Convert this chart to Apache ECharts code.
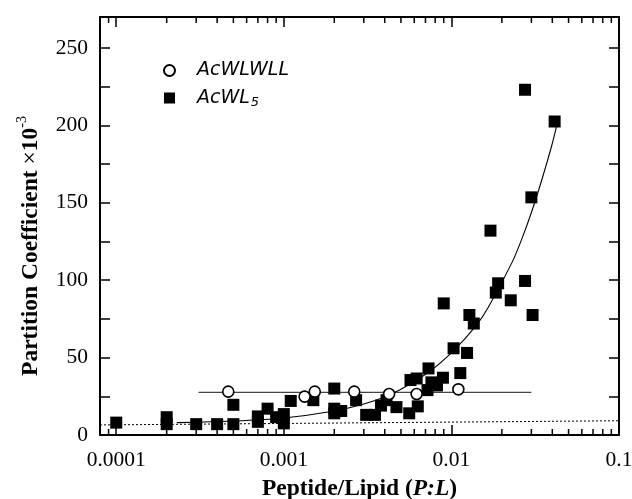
<!DOCTYPE html>
<html><head><meta charset="utf-8">
<script src="https://cdn.jsdelivr.net/npm/echarts@6/dist/echarts.min.js"></script>
<style>html,body{margin:0;padding:0;background:#fff}#c{width:632px;height:499px}</style>
</head><body><div id="c"></div>
<script>
// AcWLWLL (open circles)
const acwlwllX = [4.66e-4, 1.33e-3, 1.53e-3, 2.63e-3, 4.25e-3, 6.2e-3, 1.1e-2];
const acwlwllY = [28, 24.8, 28, 28, 26.5, 26.5, 29.5];
// AcWL5 (filled squares)
const acwl5X = [1.0e-4, 2.0e-4, 2.0e-4, 3.0e-4, 4.0e-4, 5.0e-4, 5.0e-4, 7.0e-4, 7.0e-4, 8.0e-4,
  9.0e-4, 1.0e-3, 1.0e-3, 1.1e-3, 1.5e-3, 2.0e-3, 2.0e-3, 2.0e-3, 2.2e-3, 2.7e-3,
  3.1e-3, 3.5e-3, 3.8e-3, 4.1e-3, 4.7e-3, 5.6e-3, 5.7e-3, 6.2e-3, 6.3e-3, 7.2e-3,
  7.3e-3, 7.6e-3, 8.2e-3, 8.9e-3, 9.0e-3, 1.03e-2, 1.13e-2, 1.24e-2, 1.28e-2, 1.36e-2,
  1.71e-2, 1.84e-2, 1.9e-2, 2.26e-2, 2.75e-2, 2.75e-2, 3.0e-2, 3.05e-2, 4.13e-2];
const acwl5Y = [8, 11.5, 7, 7, 7, 7, 19.5, 8.5, 12, 17,
  11.5, 13.5, 7.5, 22, 22.5, 30, 17, 14, 15.5, 22.5,
  13, 13, 19, 22.5, 18, 14, 35.5, 36.5, 18.5, 29,
  43, 34, 32, 37, 85, 56, 40, 53, 77.5, 72,
  132, 92, 98, 87, 223, 99.5, 153.5, 77.5, 202.5];
// fitted curve for AcWL5
const fitAcwl5X = [2.3e-4, 5e-4, 1e-3, 2e-3, 3e-3, 4e-3, 5e-3, 7.4e-3, 1.02e-2, 1.4e-2, 1.66e-2, 2.3e-2, 2.65e-2, 3.05e-2, 3.5e-2, 3.97e-2, 4.23e-2];
const fitAcwl5Y = [8, 9, 11, 15.5, 20, 24.5, 29.5, 41, 54, 70.5, 82.5, 111.5, 127.5, 146, 166.5, 187, 199];
// flat fit for AcWLWLL
const fitAcwlwllX = [3.1e-4, 3.0e-2];
const fitAcwlwllY = [27.5, 27.5];
// dotted baseline
const baseX = [8e-5, 0.1];
const baseY = [6.5, 9.2];
// axis ticks
const xTickValues = [0.0001, 0.001, 0.01, 0.1];
const xTickLabels = ['0.0001', '0.001', '0.01', '0.1'];
const xMinorTicks = [9e-5, 2e-4, 3e-4, 4e-4, 5e-4, 6e-4, 7e-4, 8e-4, 9e-4,
  2e-3, 3e-3, 4e-3, 5e-3, 6e-3, 7e-3, 8e-3, 9e-3,
  2e-2, 3e-2, 4e-2, 5e-2, 6e-2, 7e-2, 8e-2, 9e-2];
const yTickLabels = ['0', '50', '100', '150', '200', '250'];

const X_MIN = 8e-5, X_MAX = 0.1, Y_MIN = 0, Y_MAX = 270;
const zip = (a, b) => a.map((v, i) => [v, b[i]]);
const serif = 'Liberation Serif';

function xLabel(v) {
  for (let i = 0; i < xTickValues.length; i++) {
    if (Math.abs(v - xTickValues[i]) / xTickValues[i] < 1e-6) return xTickLabels[i];
  }
  return '';
}
function yLabel(v) {
  const s = String(Math.round(v));
  return yTickLabels.indexOf(s) >= 0 && Math.abs(v - Math.round(v)) < 1e-9 ? s : '';
}

const axisLine = { show: true, onZero: false, lineStyle: { color: '#000', width: 2 } };
const tick = { show: true, inside: true, length: 10, lineStyle: { color: '#000', width: 1.5 } };
const chart = echarts.init(document.getElementById('c'));
chart.setOption({
  animation: false,
  backgroundColor: '#fff',
  grid: { left: 100, right: 13, top: 17, bottom: 64, containLabel: false, outerBoundsMode: 'none' },
  legend: {
    orient: 'vertical', left: 158, top: 56, itemWidth: 11, itemHeight: 11, itemGap: 7,
    data: ['AcWLWLL', 'AcWL5'],
    formatter: n => n === 'AcWL5' ? '{t|AcWL}{s|5}' : '{t|AcWLWLL}',
    textStyle: {
      padding: [0, 0, 0, 17],
      rich: {
        t: { fontFamily: 'DejaVu Sans', fontStyle: 'italic', fontSize: 19, color: '#000', lineHeight: 22 },
        s: { fontFamily: 'DejaVu Sans', fontStyle: 'italic', fontSize: 13, color: '#000', lineHeight: 13, padding: [9, 0, 0, 1] }
      }
    }
  },
  xAxis: [{
    type: 'log', position: 'bottom', min: X_MIN, max: X_MAX,
    axisLine: axisLine, axisTick: tick,
    axisLabel: { formatter: xLabel, fontFamily: serif, fontSize: 21.5, color: '#000', margin: 14, showMinLabel: true, showMaxLabel: true },
    splitLine: { show: false },
    name: '{b|Peptide/Lipid (}{i|P:L}{b|)}',
    nameLocation: 'middle', nameGap: 42,
    nameTextStyle: { rich: {
      b: { fontFamily: serif, fontWeight: 'bold', fontSize: 23.5, color: '#000' },
      i: { fontFamily: serif, fontWeight: 'bold', fontStyle: 'italic', fontSize: 23.5, color: '#000' }
    } }
  }, {
    type: 'log', position: 'top', min: X_MIN, max: X_MAX,
    axisLine: axisLine, axisTick: tick,
    axisLabel: { show: false },
    splitLine: { show: false }
  }],
  yAxis: [{
    type: 'value', position: 'left', min: Y_MIN, max: Y_MAX, interval: 25,
    axisLine: axisLine, axisTick: tick,
    axisLabel: { formatter: yLabel, fontFamily: serif, fontSize: 21.5, color: '#000', margin: 12 },
    splitLine: { show: false },
    name: '{b|Partition Coefficient }{x|×}{b|10}{s|-3}',
    nameLocation: 'middle', nameGap: 57,
    nameTextStyle: {
      padding: [0, 40, 0, 0],
      rich: {
        b: { fontFamily: serif, fontWeight: 'bold', fontSize: 23.5, color: '#000', lineHeight: 28, verticalAlign: 'bottom' },
        x: { fontFamily: serif, fontSize: 23.5, color: '#000', lineHeight: 28, verticalAlign: 'bottom' },
        s: { fontFamily: serif, fontSize: 14, color: '#000', lineHeight: 15, verticalAlign: 'top' }
      }
    }
  }, {
    type: 'value', position: 'right', min: Y_MIN, max: Y_MAX, interval: 25,
    axisLine: axisLine, axisTick: tick,
    axisLabel: { show: false },
    splitLine: { show: false }
  }],
  series: [
    {
      type: 'custom', name: 'minorTicks', silent: true, z: 5,
      data: xMinorTicks.map(v => [v, Y_MIN]),
      encode: { x: 0, y: 1 },
      renderItem: (params, api) => {
        const x = api.value(0);
        const b = api.coord([x, Y_MIN]);
        const t = api.coord([x, Y_MAX]);
        return { type: 'group', children: [
          { type: 'line', shape: { x1: b[0], y1: b[1], x2: b[0], y2: b[1] - 6 }, style: { stroke: '#000', lineWidth: 1.5 } },
          { type: 'line', shape: { x1: t[0], y1: t[1], x2: t[0], y2: t[1] + 6 }, style: { stroke: '#000', lineWidth: 1.5 } }
        ] };
      }
    },
    {
      type: 'line', name: 'baseline', data: zip(baseX, baseY), showSymbol: false, silent: true, z: 1,
      lineStyle: { color: '#000', width: 1, type: [2, 2] }
    },
    {
      type: 'line', name: 'fitWLWLL', data: zip(fitAcwlwllX, fitAcwlwllY), showSymbol: false, silent: true, z: 1,
      lineStyle: { color: '#444', width: 1.2 }
    },
    {
      type: 'line', name: 'fitWL5', data: zip(fitAcwl5X, fitAcwl5Y), showSymbol: false, silent: true, z: 1, smooth: 0.3,
      lineStyle: { color: '#000', width: 1.1 }
    },
    {
      type: 'scatter', name: 'AcWL5', data: zip(acwl5X, acwl5Y), symbol: 'rect', symbolSize: 12, z: 3,
      itemStyle: { color: '#000', opacity: 1 }
    },
    {
      type: 'scatter', name: 'AcWLWLL', data: zip(acwlwllX, acwlwllY), symbol: 'circle', symbolSize: 11, z: 4,
      itemStyle: { color: '#fff', borderColor: '#000', borderWidth: 1.6, opacity: 1 }
    }
  ]
});
</script></body></html>
